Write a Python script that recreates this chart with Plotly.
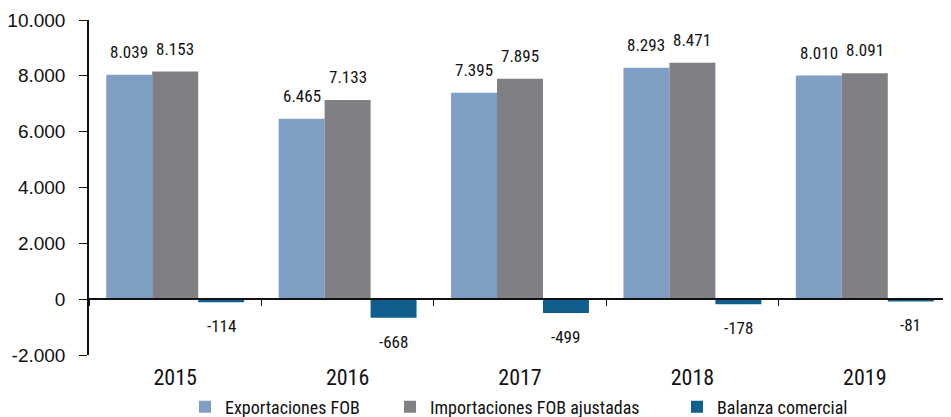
import plotly.graph_objects as go

anios = ["2015", "2016", "2017", "2018", "2019"]
exportaciones = [8039, 6465, 7395, 8293, 8010]
importaciones = [8153, 7133, 7895, 8471, 8091]
balanza = [-114, -668, -499, -178, -81]

y_ticks = [-2000, 0, 2000, 4000, 6000, 8000, 10000]
y_ticktext = ["-2.000", "0", "2.000", "4.000", "6.000", "8.000", "10.000"]

series = [
    ("Exportaciones FOB", exportaciones, "#7f9fc4"),
    ("Importaciones FOB ajustadas", importaciones, "#808084"),
    ("Balanza comercial", balanza, "#105f8e"),
]

def miles(v):
    return f"{v:,}".replace(",", ".")

NARROW = "Roboto Condensed, Liberation Sans Narrow, Arial Narrow, sans-serif"
NEGRO = "#111111"

W, H = 943, 409          # el body de la pagina agrega 8px de margen
L, R, T, B = 81, 0, 12, 62
ancho_plot = W - L - R

fig = go.Figure()
leyendas = ["legend", "legend2", "legend3"]
for (nombre, vals, color), lg in zip(series, leyendas):
    fig.add_trace(go.Bar(x=anios, y=vals, name=nombre, marker_color=color,
                         marker_line_width=0, legend=lg))

# etiquetas de valor, separadas de la barra
ancho_barra = ancho_plot / len(anios) * 0.8 / 3
shift_x = [-ancho_barra, 0, ancho_barra]
for (nombre, vals, color), dx in zip(series, shift_x):
    for i, v in enumerate(vals):
        fig.add_annotation(x=i, y=v, text=miles(v), showarrow=False,
                           xshift=dx, yshift=11 if v >= 0 else -12,
                           yanchor="bottom" if v >= 0 else "top",
                           font=dict(family=NARROW, size=17, color=NEGRO))

# eje auxiliar en y=0 con las marcas entre categorias
fig.add_trace(go.Scatter(x=anios, y=[0] * len(anios), xaxis="x2", mode="none",
                         showlegend=False, hoverinfo="skip"))

# cada serie con su propia leyenda para fijar la posicion de cada entrada
inicio_texto = [223, 428, 715]
ley = {}
for lg, px in zip(leyendas, inicio_texto):
    ley[lg] = dict(orientation="h", x=(px - 8 - 38 - L) / ancho_plot, y=-0.155,
                   xanchor="left", yanchor="middle",
                   font=dict(family=NARROW, size=18, color=NEGRO),
                   bgcolor="rgba(0,0,0,0)", borderwidth=0)

fig.update_layout(
    width=W, height=H,
    margin=dict(l=L, r=R, t=T, b=B, autoexpand=False),
    plot_bgcolor="white", paper_bgcolor="white",
    barmode="group", bargap=0.2, bargroupgap=0,
    showlegend=True,
    **ley,
    xaxis=dict(type="category", range=[-0.5, 4.5], showline=False, ticks="",
               showgrid=False, zeroline=False, ticklabelstandoff=7,
               tickfont=dict(family=NARROW, size=22, color=NEGRO)),
    xaxis2=dict(type="category", range=[-0.5, 4.5], overlaying="x", anchor="free",
                position=2000 / 12000, side="bottom",
                showline=True, linecolor=NEGRO, linewidth=1.5,
                ticks="outside", tickson="boundaries", ticklen=6,
                tickcolor=NEGRO, showticklabels=False, showgrid=False),
    yaxis=dict(range=[-2000, 10000], tickvals=y_ticks, ticktext=y_ticktext,
               showline=True, linecolor=NEGRO, linewidth=1.5,
               ticks="outside", ticklen=8, tickcolor=NEGRO, ticklabelstandoff=10,
               showgrid=False, zeroline=False,
               tickfont=dict(family="Liberation Sans, Arial, sans-serif", size=19,
                             color=NEGRO)),
)

fig.write_html("out.html")
